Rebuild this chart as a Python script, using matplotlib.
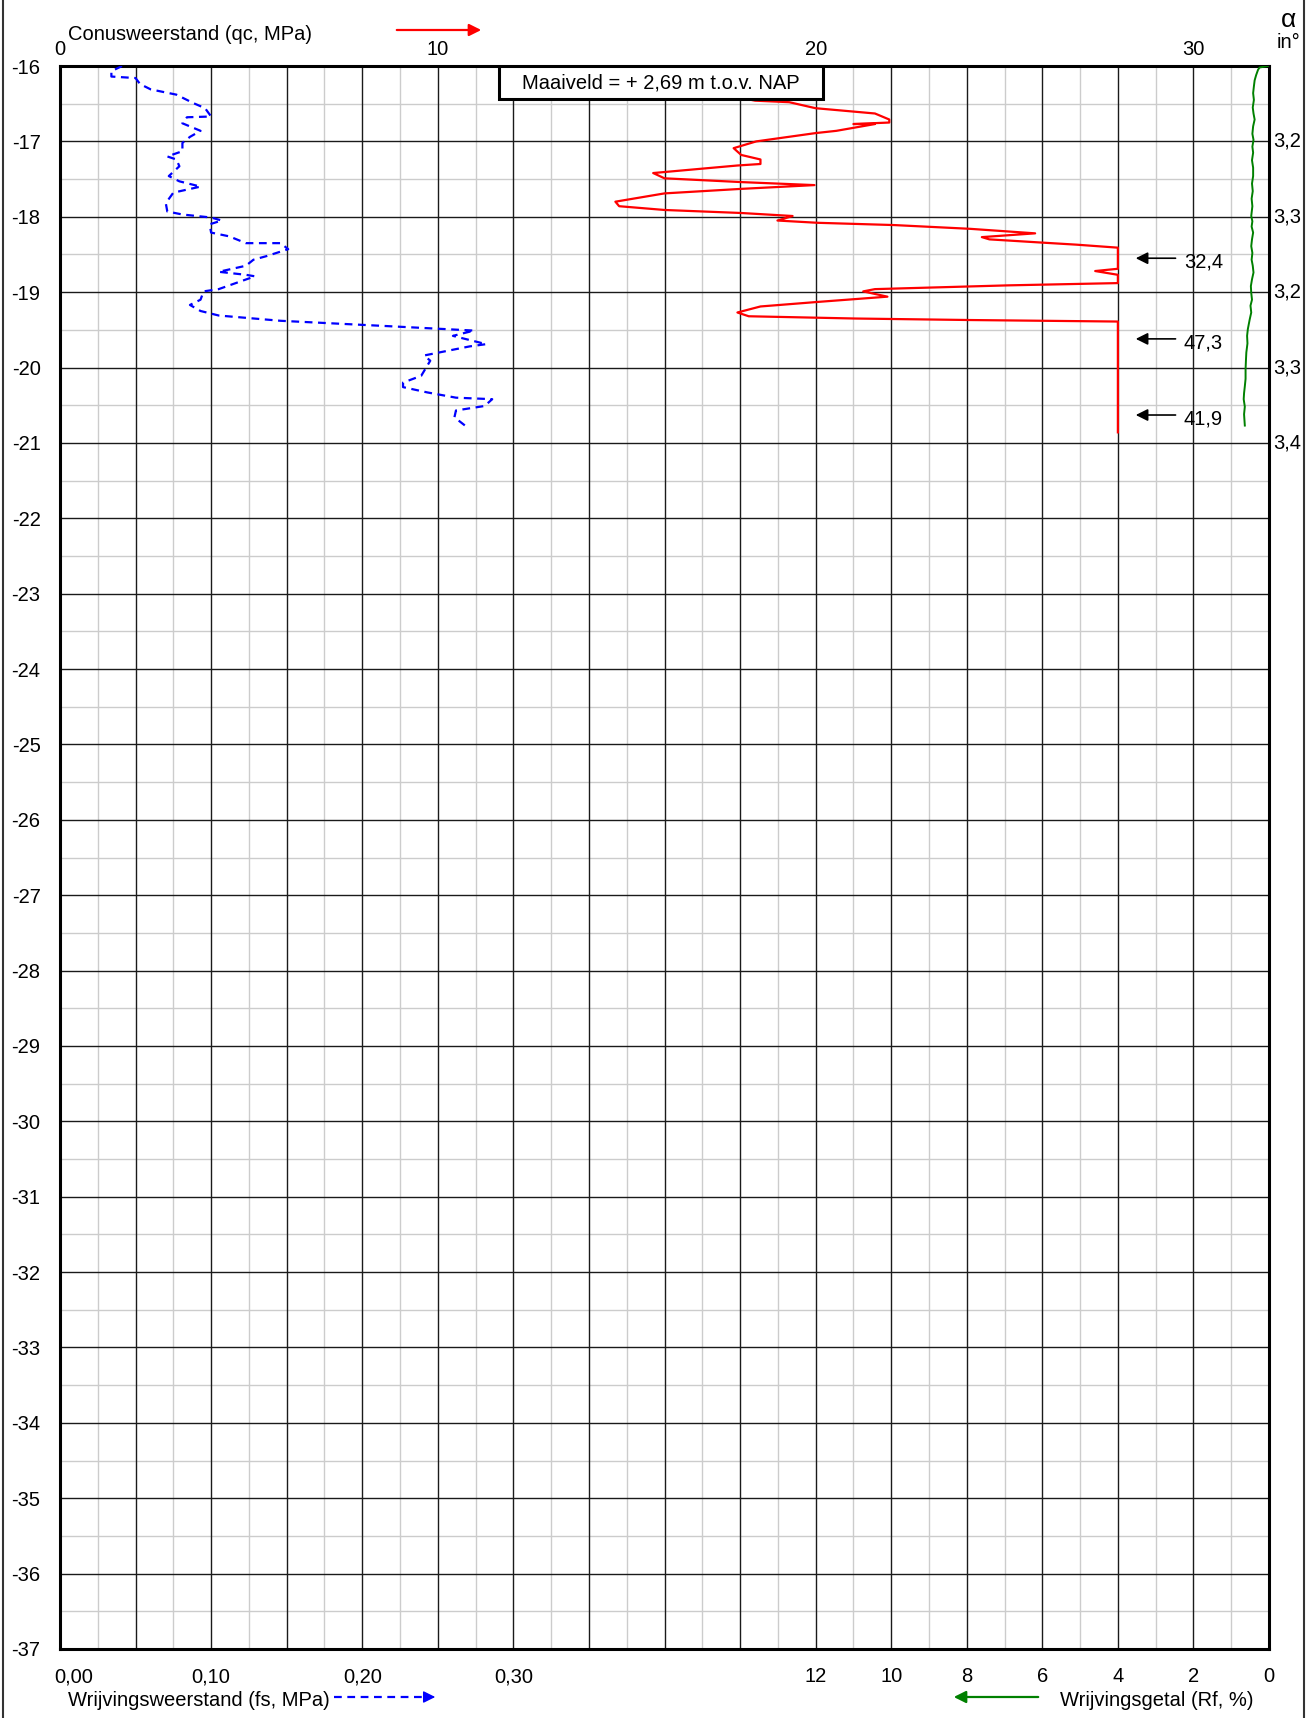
import numpy as np
import matplotlib
matplotlib.use("Agg")
from matplotlib import pyplot as plt
from matplotlib.lines import Line2D
from matplotlib.patches import Rectangle

W, H = 1311, 1718

# cone resistance qc (MPa), clipped at 28 in the drawing
qc_depth = [-16.0, -16.2, -16.40, -16.46, -16.48, -16.56, -16.63, -16.71, -16.75, -16.77, -16.77, -16.86, -16.89,
            -17.0, -17.09, -17.18, -17.24, -17.30, -17.32, -17.42, -17.49, -17.54, -17.58, -17.63, -17.69,
            -17.80, -17.86, -17.91, -17.95, -17.99, -18.05, -18.08, -18.11, -18.16, -18.22, -18.27, -18.30,
            -18.34, -18.37, -18.41, -18.69, -18.72, -18.77, -18.88, -18.91, -18.96, -18.99, -19.06, -19.13,
            -19.19, -19.27, -19.32, -19.35, -19.37, -19.39, -20.86]
qc_val = [16.5, 17.5, 17.8, 18.4, 19.3, 20.0, 21.57, 21.95, 21.95, 21.0, 21.57, 20.55, 20.0,
          18.43, 17.83, 18.03, 18.54, 18.54, 17.93, 15.7, 16.0, 18.03, 19.97, 18.03, 16.0,
          14.7, 14.8, 16.0, 18.03, 19.39, 18.99, 20.05, 22.07, 24.09, 25.81, 24.4, 24.6,
          25.9, 26.9, 28.0, 28.0, 27.4, 28.0, 28.0, 25.1, 21.57, 21.26, 21.9, 20.05,
          18.54, 17.93, 18.23, 21.06, 24.09, 28.0, 28.0]

# sleeve friction fs (MPa)
fs_depth = [-16.0, -16.07, -16.14, -16.16, -16.24, -16.31, -16.38, -16.49, -16.56, -16.67, -16.68, -16.76,
            -16.86, -16.94, -17.02, -17.13, -17.20, -17.24, -17.33, -17.46, -17.53, -17.60, -17.68, -17.82,
            -17.93, -17.97, -18.01, -18.05, -18.10, -18.21, -18.26, -18.35, -18.35, -18.43, -18.52, -18.57,
            -18.65, -18.73, -18.77, -18.79, -18.96, -18.99, -19.10, -19.17, -19.25, -19.31, -19.38, -19.45,
            -19.51, -19.58, -19.69, -19.72, -19.84, -19.91, -20.11, -20.20, -20.26, -20.33, -20.40, -20.42,
            -20.51, -20.57, -20.66, -20.77]
fs_val = [0.041, 0.034, 0.034, 0.050, 0.053, 0.060, 0.077, 0.088, 0.096, 0.100, 0.084, 0.081,
          0.093, 0.086, 0.081, 0.081, 0.071, 0.077, 0.079, 0.072, 0.079, 0.093, 0.075, 0.070,
          0.071, 0.081, 0.100, 0.107, 0.099, 0.100, 0.112, 0.123, 0.146, 0.151, 0.137, 0.128,
          0.123, 0.105, 0.123, 0.129, 0.105, 0.095, 0.093, 0.086, 0.093, 0.105, 0.146, 0.216,
          0.274, 0.260, 0.282, 0.271, 0.241, 0.245, 0.239, 0.227, 0.227, 0.243, 0.262, 0.286,
          0.281, 0.262, 0.261, 0.268]

# friction ratio Rf (%)
rf_depth = [-16.0, -16.02, -16.05, -16.12, -16.19, -16.27, -16.36, -16.45, -16.55, -16.63, -16.71, -16.80,
            -16.90, -16.98, -17.07, -17.15, -17.25, -17.35, -17.46, -17.56, -17.66, -17.76, -17.86, -17.99,
            -18.06, -18.13, -18.21, -18.30, -18.39, -18.48, -18.57, -18.65, -18.74, -18.83, -18.92, -19.01,
            -19.10, -19.18, -19.27, -19.36, -19.49, -19.58, -19.68, -19.80, -19.90, -20.02, -20.15, -20.25,
            -20.34, -20.42, -20.52, -20.62, -20.77]
rf_val = [0.03, 0.25, 0.29, 0.34, 0.38, 0.40, 0.42, 0.40, 0.43, 0.41, 0.38, 0.42,
          0.44, 0.41, 0.44, 0.42, 0.45, 0.42, 0.42, 0.45, 0.43, 0.46, 0.44, 0.47,
          0.44, 0.46, 0.42, 0.45, 0.47, 0.44, 0.46, 0.43, 0.41, 0.45, 0.48, 0.47,
          0.45, 0.49, 0.47, 0.51, 0.56, 0.58, 0.57, 0.60, 0.61, 0.62, 0.62, 0.64,
          0.66, 0.67, 0.64, 0.66, 0.64]

# clipped peaks (depth, real qc)
peak_depth = [-18.55, -19.62, -20.63]
peak_label = ["32,4", "47,3", "41,9"]

# inclination labels on the right
alpha_depth = [-17, -18, -19, -20, -21]
alpha_label = ["3,2", "3,3", "3,2", "3,3", "3,4"]

qc_ticks = [0, 10, 20, 30]
fs_ticks = [0.0, 0.1, 0.2, 0.3]
rf_ticks = [12, 10, 8, 6, 4, 2, 0]

QC_MAX = 32
FS_SCALE = 40  # 0.1 MPa fs = 4 MPa on the qc scale

plt.rcParams['font.family'] = ['Liberation Sans', 'DejaVu Sans']
FS = 14.5

fig = plt.figure(figsize=(W / 100, H / 100), dpi=100)
ax = fig.add_axes([60 / W, 1 - 1649 / H, 1209 / W, 1583 / H])
ax.set_xlim(0, QC_MAX)
ax.set_ylim(-37, -16)

# grid
for x in np.arange(1, QC_MAX, 2):
    ax.axvline(x, color='#cccccc', lw=1.0, zorder=1)
for y in np.arange(-36.5, -16, 1):
    ax.axhline(y, color='#cccccc', lw=1.0, zorder=1)
for x in np.arange(2, QC_MAX, 2):
    ax.axvline(x, color='#1a1a1a', lw=1.0, zorder=1.5)
for y in np.arange(-36, -16, 1):
    ax.axhline(y, color='#1a1a1a', lw=1.0, zorder=1.5)

ax.set_xticks([])
ax.set_yticks(range(-37, -15))
ax.set_yticklabels([str(v) for v in range(-37, -15)], fontsize=FS)
ax.tick_params(axis='y', length=0, pad=14)
for s in ax.spines.values():
    s.set_linewidth(2.2)

# curves
ax.plot(qc_val, qc_depth, color='red', lw=1.6, zorder=3)
ax.plot(np.array(fs_val) * FS_SCALE, fs_depth, color='blue', lw=1.6,
        linestyle=(0, (3.5, 2.5)), zorder=3)
ax.plot(QC_MAX - np.array(rf_val), rf_depth, color='green', lw=1.4, zorder=3)

# arrows for clipped values
for d, lab in zip(peak_depth, peak_label):
    ax.annotate('', xy=(28.4, d), xytext=(29.6, d),
                arrowprops=dict(arrowstyle='-|>', color='black', lw=1.2, mutation_scale=18), zorder=4)
    ax.text(29.75, d - 0.05, lab, fontsize=FS, va='center', ha='left', zorder=4)

# ground level box
ax.add_patch(Rectangle((11.62, -16.44), 20.2 - 11.62, 0.44, facecolor='white', edgecolor='black',
                       lw=2.2, zorder=5))
ax.text(15.91, -16.22, "Maaiveld = + 2,69 m t.o.v. NAP", fontsize=FS, ha='center', va='center', zorder=6)

def ft(x, y, s, **kw):
    kw.setdefault('fontsize', FS)
    fig.text(x / W, 1 - y / H, s, **kw)

def fp(x, y):
    return (x / W, 1 - y / H)

# top axis
ft(68, 34, "Conusweerstand (qc, MPa)", ha='left', va='center')
ax.annotate('', xy=fp(484, 30), xytext=fp(394, 30), xycoords='figure fraction',
            arrowprops=dict(arrowstyle='-|>', color='red', lw=1.6, mutation_scale=18))
for v in qc_ticks:
    ax.text(v, -15.78, str(v), fontsize=FS, ha='center', va='center')

# alpha labels
ft(1289, 20, "α", fontsize=19, ha='center', va='center')
ft(1289, 42, "in°", ha='center', va='center')
for d, lab in zip(alpha_depth, alpha_label):
    ax.text(QC_MAX + 0.12, d, lab, fontsize=FS, ha='left', va='center', clip_on=False)

# bottom axis
for v in fs_ticks:
    lab = f"{v:.2f}".replace('.', ',')
    if v == 0:
        ax.text(-0.15, -37.37, lab, fontsize=FS, ha='left', va='center')
    else:
        ax.text(v * FS_SCALE, -37.37, lab, fontsize=FS, ha='center', va='center')
for v in rf_ticks:
    ax.text(QC_MAX - v, -37.37, str(v), fontsize=FS, ha='center', va='center')

ft(68, 1701, "Wrijvingsweerstand (fs, MPa)", ha='left', va='center')
fig.add_artist(Line2D([334 / W, 422 / W], [1 - 1697 / H] * 2, color='blue', lw=1.6,
                      linestyle=(0, (3.5, 2.5))))
ax.annotate('', xy=fp(438, 1697), xytext=fp(422, 1697), xycoords='figure fraction',
            arrowprops=dict(arrowstyle='-|>', color='blue', lw=1.0, mutation_scale=18))

ft(1254, 1701, "Wrijvingsgetal (Rf, %)", ha='right', va='center')
ax.annotate('', xy=fp(951, 1697), xytext=fp(1041, 1697), xycoords='figure fraction',
            arrowprops=dict(arrowstyle='-|>', color='green', lw=1.6, mutation_scale=18))

# page frame lines
fig.add_artist(Line2D([3 / W, 3 / W], [0, 1], color='#333333', lw=1.5))
fig.add_artist(Line2D([1304 / W, 1304 / W], [0, 1], color='#333333', lw=1.5))

fig.savefig("out.png", dpi=100)
